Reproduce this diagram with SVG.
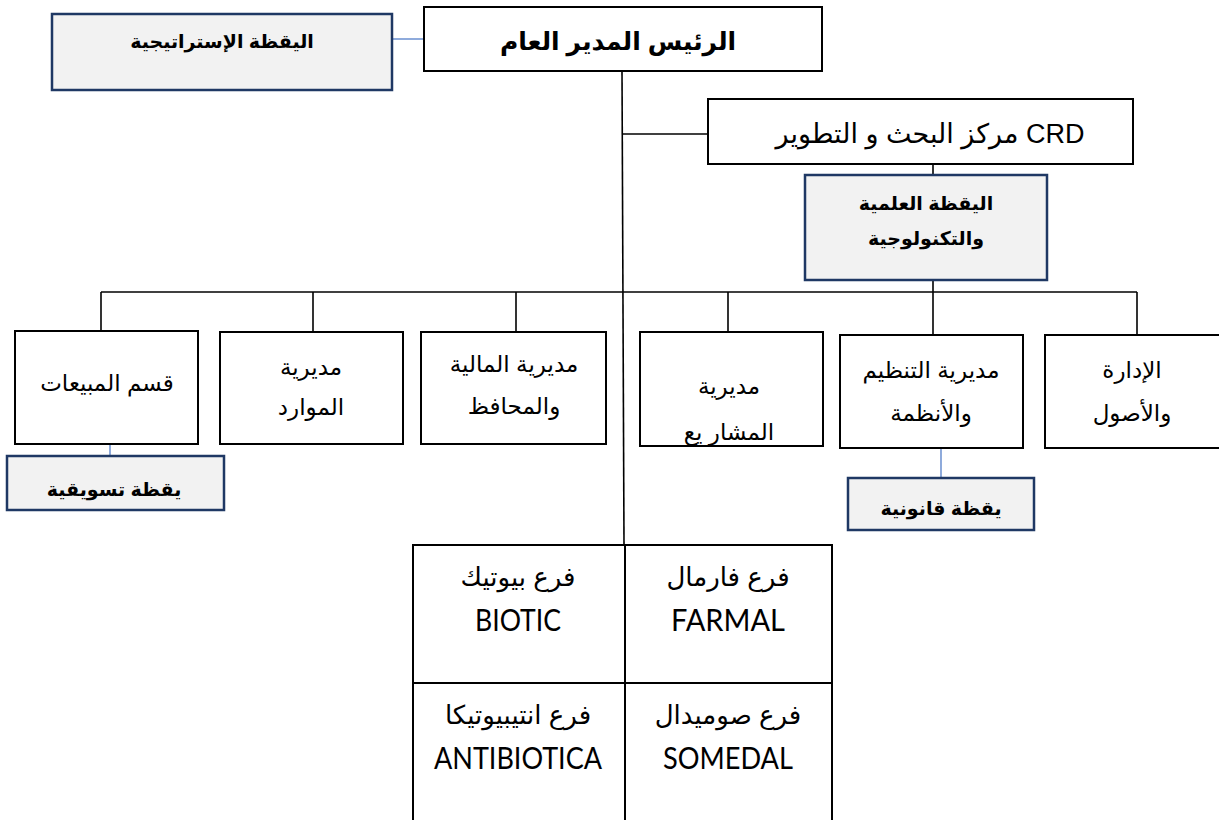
<svg xmlns="http://www.w3.org/2000/svg" width="1219" height="820" viewBox="0 0 1219 820">
<style>
.box{fill:#ffffff;stroke:#000;stroke-width:2}
.vbox{fill:#f2f2f2;stroke:#1f3864;stroke-width:2.5}
.ln{stroke:#000;stroke-width:1.6;fill:none}
.bl{stroke:#4472c4;stroke-width:1.2;fill:none}
.t{font-family:"Liberation Sans","DejaVu Sans",sans-serif;font-size:23px;fill:#000;text-anchor:middle}
.b{font-weight:bold;font-size:19px}
.ga{font-size:26px}
.lat{font-family:Lato,"Liberation Sans","DejaVu Sans",sans-serif;font-size:30px;font-weight:400}
</style>
<rect width="1219" height="820" fill="#fff"/>
<g id="connectors">
<line class="bl" x1="392" y1="39" x2="424" y2="39"/>
<line class="ln" x1="622" y1="71" x2="624" y2="545"/>
<line class="ln" x1="623" y1="134" x2="708" y2="134"/>
<line class="ln" x1="933" y1="164" x2="933" y2="175"/>
<line class="ln" x1="933" y1="280" x2="933" y2="292"/>
<line class="ln" x1="101" y1="292" x2="1137" y2="292"/>
<line class="ln" x1="101" y1="292" x2="101" y2="331"/>
<line class="ln" x1="313" y1="292" x2="313" y2="332"/>
<line class="ln" x1="516" y1="292" x2="516" y2="332"/>
<line class="ln" x1="728" y1="292" x2="728" y2="332"/>
<line class="ln" x1="933" y1="292" x2="933" y2="335"/>
<line class="ln" x1="1137" y1="292" x2="1137" y2="335"/>
<line class="bl" x1="110" y1="424" x2="110" y2="457"/>
<line class="bl" x1="941" y1="429" x2="941" y2="479"/>
</g>
<g id="strategic">
<rect class="vbox" x="52" y="14" width="340" height="76"/>
<text class="t b" x="222" y="48">اليقظة الإستراتيجية</text>
</g>
<g id="ceo">
<rect class="box" x="424" y="7" width="398" height="64"/>
<text class="t" style="font-weight:bold;font-size:25px" x="618" y="50">الرئيس المدير العام</text>
</g>
<g id="crd">
<rect class="box" x="708" y="99" width="425" height="65"/>
<text class="t" style="font-size:27px" direction="rtl" x="930" y="143">CRD مركز البحث و التطوير</text>
</g>
<g id="scientific">
<rect class="vbox" x="805" y="175" width="242" height="105"/>
<text class="t b" x="926" y="210">اليقظة العلمية</text>
<text class="t b" x="926" y="245">والتكنولوجية</text>
</g>
<g id="sales">
<rect class="box" x="15" y="331" width="183" height="113"/>
<text class="t" x="107" y="391">قسم المبيعات</text>
</g>
<g id="resources">
<rect class="box" x="220" y="332" width="183" height="112"/>
<text class="t" x="311" y="375">مديرية</text>
<text class="t" x="311" y="415">الموارد</text>
</g>
<g id="finance">
<rect class="box" x="421" y="332" width="185" height="112"/>
<text class="t" x="514" y="372">مديرية المالية</text>
<text class="t" x="514" y="414">والمحافظ</text>
</g>
<g id="projects">
<rect class="box" x="640" y="332" width="183" height="114"/>
<text class="t" x="729" y="394">مديرية</text>
<text class="t" x="729" y="440">المشار يع</text>
</g>
<g id="organization">
<rect class="box" x="840" y="335" width="183" height="113"/>
<text class="t" x="931" y="378">مديرية التنظيم</text>
<text class="t" x="931" y="421">والأنظمة</text>
</g>
<g id="admin">
<rect class="box" x="1045" y="335" width="175" height="113"/>
<text class="t" x="1132" y="378">الإدارة</text>
<text class="t" x="1132" y="421">والأصول</text>
</g>
<g id="marketing">
<rect class="vbox" x="7" y="456" width="217" height="54"/>
<text class="t b" x="114" y="496">يقظة تسويقية</text>
</g>
<g id="legal">
<rect class="vbox" x="848" y="478" width="186" height="52"/>
<text class="t b" x="941" y="515">يقظة قانونية</text>
</g>
<g id="branches">
<rect class="box" x="413" y="545" width="212" height="138"/>
<rect class="box" x="625" y="545" width="207" height="138"/>
<rect class="box" x="413" y="683" width="212" height="140"/>
<rect class="box" x="625" y="683" width="207" height="140"/>
<text class="t ga" x="518" y="586">فرع بيوتيك</text>
<text class="t lat" x="518" y="631" textLength="86" lengthAdjust="spacingAndGlyphs">BIOTIC</text>
<text class="t ga" x="728" y="586">فرع فارمال</text>
<text class="t lat" x="728" y="631" textLength="114" lengthAdjust="spacingAndGlyphs">FARMAL</text>
<text class="t ga" x="518" y="724">فرع انتيبيوتيكا</text>
<text class="t lat" x="518" y="769" textLength="168" lengthAdjust="spacingAndGlyphs">ANTIBIOTICA</text>
<text class="t ga" x="728" y="724">فرع صوميدال</text>
<text class="t lat" x="728" y="769" textLength="130" lengthAdjust="spacingAndGlyphs">SOMEDAL</text>
</g>
</svg>
